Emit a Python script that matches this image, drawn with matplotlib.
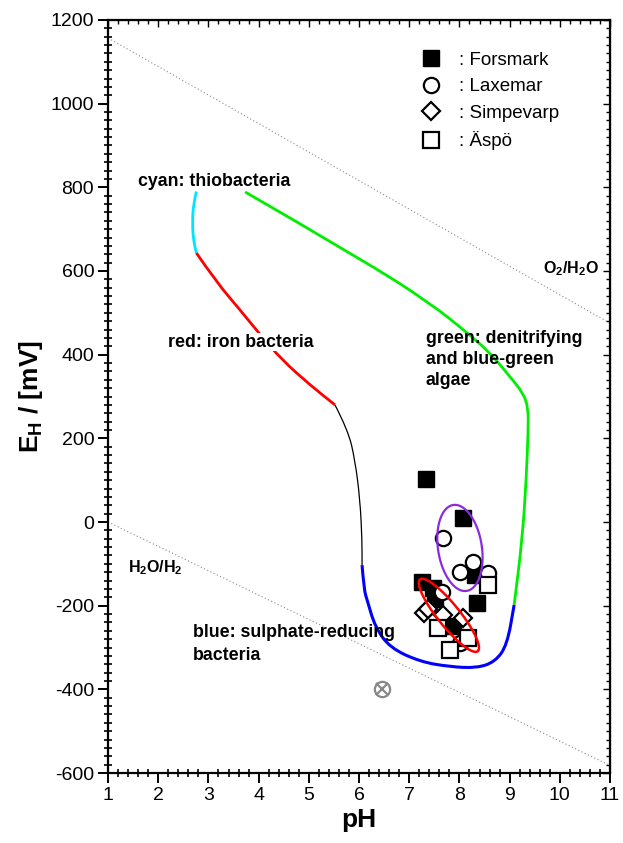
import numpy as np
import matplotlib
matplotlib.use("Agg")
import matplotlib.pyplot as plt
from matplotlib.ticker import MultipleLocator
from matplotlib.path import Path
from matplotlib.patches import PathPatch

plt.rcParams['font.family'] = ['Liberation Sans', 'DejaVu Sans']
plt.rcParams['mathtext.fontset'] = 'custom'
plt.rcParams['mathtext.rm'] = 'Liberation Sans'
plt.rcParams['mathtext.bf'] = 'Liberation Sans:bold'
plt.rcParams['mathtext.it'] = 'Liberation Sans:italic'
plt.rcParams['axes.unicode_minus'] = False

# ---------------- data ----------------
# water stability lines (pH, Eh)
o2_ph = [1, 11]
o2_eh = [1157, 475]
h2_ph = [1, 11]
h2_eh = [0, -582]

# biological envelope segments
cyan_ph = [2.76, 2.70, 2.68, 2.70, 2.76]
cyan_eh = [790, 760, 715, 675, 643]
red_ph = [2.76, 3.15, 3.63, 4.05, 4.47, 5.02, 5.52]
red_eh = [643, 575, 507, 445, 387, 328, 280]
black_ph = [5.52, 5.78, 5.92, 6.02, 6.06, 6.06]
black_eh = [280, 220, 148, 53, -43, -103]
blue_ph = [6.06, 6.10, 6.16, 6.32, 6.62, 7.22, 7.81, 8.35, 8.71, 8.95, 9.09]
blue_eh = [-103, -162, -186, -251, -301, -334, -346, -349, -334, -294, -198]
green_ph = [3.73, 6.08, 7.41, 8.21, 8.61, 9.01, 9.27, 9.37, 9.37, 9.33, 9.25, 9.09]
green_eh = [789, 626, 524, 447, 404, 347, 308, 273, 220, 100, -43, -198]

# sample sites
forsmark_ph = [7.33, 8.07, 7.25, 7.47, 7.51, 8.31, 8.35, 7.87]
forsmark_eh = [103, 10, -143, -157, -184, -127, -194, -249]
laxemar_ph = [7.67, 8.27, 8.01, 8.57, 7.65, 8.01]
laxemar_eh = [-38, -95, -119, -122, -167, -289]
simpevarp_ph = [7.30, 7.37, 7.67, 8.07]
simpevarp_eh = [-218, -208, -222, -229]
aspo_ph = [8.57, 7.57, 8.17, 7.81]
aspo_eh = [-150, -253, -277, -306]

special_ph = [6.45]
special_eh = [-400]

# ellipses: center pH, center Eh, semi-axes
purple_c = (8.01, -62)
purple_r = (0.44, 103)
purple_shear = 0.10
red_c = (7.79, -223)
red_len = 46.0   # semi-major (px-equivalent)
red_wid = 11.0   # semi-minor
red_ang = np.degrees(np.arctan2(-72, 58))


def smooth(ax, xs, ys, **kw):
    """Draw a smooth quadratic-Bezier curve guided by the given points."""
    p = np.column_stack([xs, ys]).astype(float)
    verts = [p[0]]
    codes = [Path.MOVETO]
    for i in range(1, len(p) - 1):
        mid = (p[i] + p[i + 1]) / 2
        verts += [p[i], mid]
        codes += [Path.CURVE3, Path.CURVE3]
    verts.append(p[-1])
    codes.append(Path.LINETO)
    patch = PathPatch(Path(verts, codes), fill=False, capstyle='butt', **kw)
    ax.add_patch(patch)


# ---------------- figure ----------------
fig = plt.figure(figsize=(6.23, 8.43), dpi=100)
ax = fig.add_axes([0.1734, 0.0830, 0.8058, 0.8933])
ax.set_xlim(1, 11)
ax.set_ylim(-600, 1200)

ax.plot(o2_ph, o2_eh, ls=(0, (1, 2.2)), color='#888888', lw=0.8, zorder=1)
ax.plot(h2_ph, h2_eh, ls=(0, (1, 2.2)), color='#888888', lw=0.8, zorder=1)

smooth(ax, cyan_ph, cyan_eh, ec='#00e5ff', lw=2.0, zorder=2)
smooth(ax, red_ph, red_eh, ec='#ff0000', lw=2.0, zorder=2)
smooth(ax, black_ph, black_eh, ec='black', lw=0.9, zorder=2)
smooth(ax, blue_ph, blue_eh, ec='#0000ff', lw=2.2, zorder=2)
smooth(ax, green_ph, green_eh, ec='#00ee00', lw=2.0, zorder=2)

ms = 11
ax.plot(forsmark_ph, forsmark_eh, 's', ms=ms, mfc='black', mec='black', mew=1.0,
        ls='none', zorder=3, label=': Forsmark')
ax.plot(laxemar_ph, laxemar_eh, 'o', ms=ms, mfc='white', mec='black', mew=1.6,
        ls='none', zorder=4, label=': Laxemar')
ax.plot(simpevarp_ph, simpevarp_eh, 'D', ms=ms * 0.85, mfc='white', mec='black', mew=1.6,
        ls='none', zorder=5, label=': Simpevarp')
ax.plot(aspo_ph, aspo_eh, 's', ms=ms, mfc='white', mec='black', mew=1.6,
        ls='none', zorder=6, label=': Äspö')

ax.plot(special_ph, special_eh, 'o', ms=11, mfc='none', mec='#888888', mew=1.6, zorder=3)
ax.plot(special_ph, special_eh, 'x', ms=9, mec='#888888', mew=1.6, zorder=3)

# ellipses
t = np.linspace(0, 2 * np.pi, 200)
px_per_ph = 50.2
px_per_mv = 83.5 / 200
ex = purple_c[0] + purple_r[0] * np.cos(t) - purple_shear * np.sin(t)
ey = purple_c[1] + purple_r[1] * np.sin(t)
ax.plot(ex, ey, color='#8a2be2', lw=1.6, zorder=7)

a = np.radians(red_ang)
t2 = np.linspace(0.08, 2 * np.pi - 0.02, 200)
ux = red_len * np.cos(t2)
uy = red_wid * np.sin(t2)
rx = ux * np.cos(a) - uy * np.sin(a)
ry = ux * np.sin(a) + uy * np.cos(a)
ax.plot(red_c[0] + rx / px_per_ph, red_c[1] + ry / px_per_mv, color='#ff0000', lw=1.8, zorder=7)

# labels
tk = dict(fontsize=12.8, fontweight='bold', zorder=8)
ax.text(1.6, 813, 'cyan: thiobacteria', va='center', ha='left',
        bbox=dict(fc='white', ec='none', pad=0.5), **tk)
ax.text(2.2, 430, 'red: iron bacteria', va='center', ha='left',
        bbox=dict(fc='white', ec='none', pad=0.5), **tk)
ax.text(7.33, 458, 'green: denitrifying\nand blue-green\nalgae', va='top', ha='left',
        linespacing=1.3, **tk)
ax.text(2.69, -244, 'blue: sulphate-reducing\nbacteria', va='top', ha='left',
        linespacing=1.42, **tk)
ax.text(1.4, -108, r'$\mathbf{H_2O/H_2}$', va='center', ha='left', fontsize=11.5, zorder=8)
ax.text(9.67, 605, r'$\mathbf{O_2/H_2O}$', va='center', ha='left', fontsize=11.5, zorder=8)

# axes styling
ax.set_xlabel('pH', fontsize=19, fontweight='bold', labelpad=3)
ax.set_ylabel(r'$\mathbf{E_H}$ / [mV]', fontsize=19, fontweight='bold', labelpad=4)
ax.xaxis.set_major_locator(MultipleLocator(1))
ax.xaxis.set_minor_locator(MultipleLocator(0.2))
ax.yaxis.set_major_locator(MultipleLocator(200))
ax.yaxis.set_minor_locator(MultipleLocator(20))
ax.tick_params(which='major', direction='out', length=7, width=1.4, labelsize=14, pad=3)
ax.tick_params(which='minor', direction='inout', length=6, width=1.2)
for s in ax.spines.values():
    s.set_linewidth(1.6)

secx = ax.secondary_xaxis('top')
secx.xaxis.set_major_locator(MultipleLocator(1))
secx.xaxis.set_minor_locator(MultipleLocator(0.2))
secx.tick_params(which='both', direction='in', labeltop=False, width=1.0)
secx.tick_params(which='major', length=5)
secx.tick_params(which='minor', length=3)
secy = ax.secondary_yaxis('right')
secy.yaxis.set_major_locator(MultipleLocator(200))
secy.yaxis.set_minor_locator(MultipleLocator(20))
secy.tick_params(which='both', direction='in', labelright=False, width=1.0)
secy.tick_params(which='major', length=5)
secy.tick_params(which='minor', length=3)

leg = ax.legend(loc='upper left', bbox_to_anchor=(0.625, 0.958), frameon=False,
                fontsize=13.5, handlelength=1.0, handletextpad=1.0, labelspacing=0.5,
                borderpad=0, borderaxespad=0)

fig.savefig('out.png', dpi=100)
